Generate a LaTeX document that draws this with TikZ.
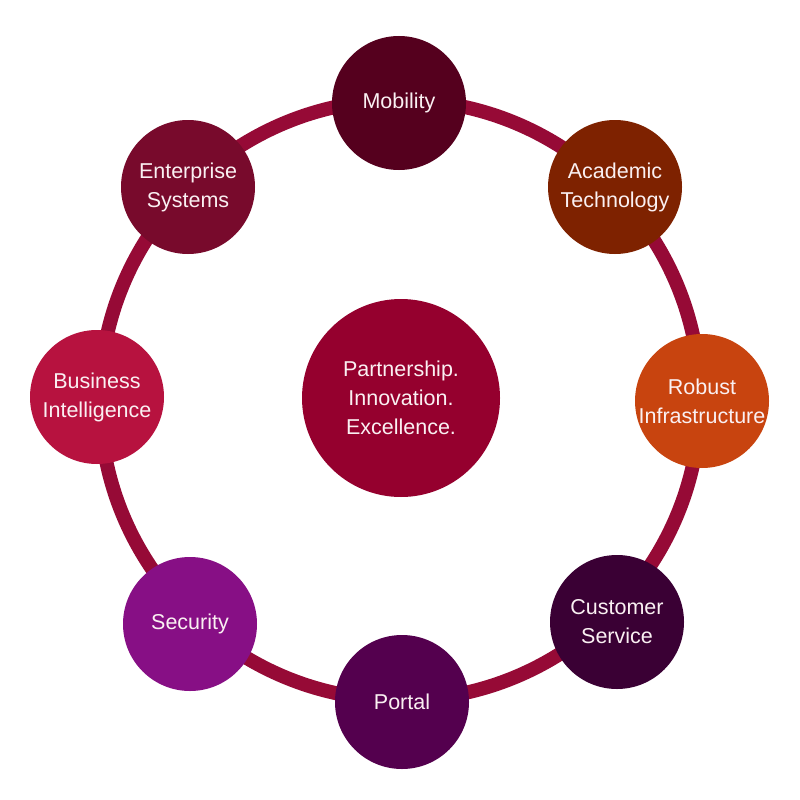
\documentclass[tikz,border=0pt]{standalone}
\usepackage{fontspec}
\setmainfont{Liberation Sans}
\definecolor{ringc}{HTML}{960A36}
\definecolor{cMob}{HTML}{55001E}
\definecolor{cAca}{HTML}{7E2200}
\definecolor{cRob}{HTML}{C8440F}
\definecolor{cCus}{HTML}{3A0034}
\definecolor{cPor}{HTML}{54004E}
\definecolor{cSec}{HTML}{870F85}
\definecolor{cBus}{HTML}{B7123F}
\definecolor{cEnt}{HTML}{780A2C}
\definecolor{cCen}{HTML}{95002E}
\definecolor{txt}{HTML}{FAF0F2}
\begin{document}
\begin{tikzpicture}[x=1pt,y=-1pt,
  bub/.style={circle,minimum size=134pt,inner sep=0pt,text=txt,align=center,
    font=\fontsize{21.5}{29}\selectfont},
  hub/.style={bub,minimum size=198pt}]
\useasboundingbox (0,0) rectangle (800,800);
\fill[white] (0,0) rectangle (800,800);
\draw[ringc,line width=14pt] (400,400) circle[radius=300];
\node[hub,fill=cCen] (cen) at (401,398) {Partnership.\\Innovation.\\Excellence.};
\node[bub,fill=cMob] (mob) at (399,103) {Mobility};
\node[bub,fill=cAca] (aca) at (615,187) {Academic\\Technology};
\node[bub,fill=cRob] (rob) at (702,401) {Robust\\Infrastructure};
\node[bub,fill=cCus] (cus) at (617,622) {Customer\\Service};
\node[bub,fill=cPor] (por) at (402,702) {Portal};
\node[bub,fill=cSec] (sec) at (190,624) {Security};
\node[bub,fill=cBus] (bus) at (97,397) {Business\\Intelligence};
\node[bub,fill=cEnt] (ent) at (188,187) {Enterprise\\Systems};
\end{tikzpicture}
\end{document}
